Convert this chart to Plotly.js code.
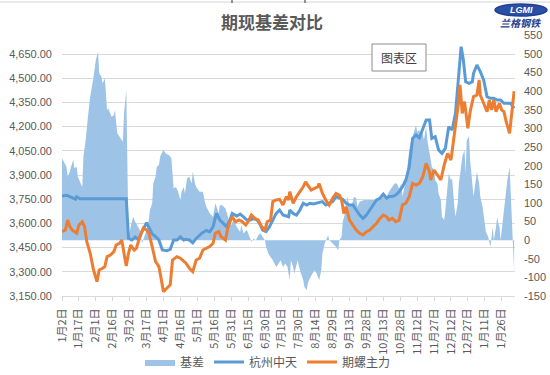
<!DOCTYPE html>
<html>
<head>
<meta charset="utf-8">
<script src="https://cdn.plot.ly/plotly-3.0.1.min.js"></script>
<style>html,body{margin:0;padding:0;background:#fff;}#chart{width:550px;height:375px;}</style>
</head>
<body>
<div id="chart"></div>
<script>
// ---- data ----
var tickDates = ['2020-01-02','2020-01-17','2020-02-01','2020-02-16','2020-03-02','2020-03-17','2020-04-01','2020-04-16','2020-05-01','2020-05-16','2020-05-31','2020-06-15','2020-06-30','2020-07-15','2020-07-30','2020-08-14','2020-08-29','2020-09-13','2020-09-28','2020-10-13','2020-10-28','2020-11-12','2020-11-27','2020-12-12','2020-12-27','2021-01-11','2021-01-26'];
var tickLabels = ['1月2日','1月17日','2月1日','2月16日','3月2日','3月17日','4月1日','4月16日','5月1日','5月16日','5月31日','6月15日','6月30日','7月15日','7月30日','8月14日','8月29日','9月13日','9月28日','10月13日','10月28日','11月12日','11月27日','12月12日','12月27日','1月11日','1月26日'];
var leftTicks = [3150,3300,3450,3600,3750,3900,4050,4200,4350,4500,4650];
var rightTicks = [-150,-100,-50,0,50,100,150,200,250,300,350,400,450,500,550];
var rightTickText = ['-150','-100','-50','0','50','100','150','200','250','300','350','400','450','500','550'];

var spotDates = ['2020-01-02','2020-01-06','2020-01-11','2020-01-14','2020-01-15','2020-01-18','2020-02-28',
'2020-03-01','2020-03-04','2020-03-07','2020-03-10','2020-03-13','2020-03-17','2020-03-19','2020-03-22','2020-03-25','2020-03-28','2020-03-31','2020-04-04','2020-04-07','2020-04-10',
'2020-04-13','2020-04-16','2020-04-19','2020-04-21','2020-04-24','2020-04-27','2020-04-30','2020-05-05','2020-05-09','2020-05-12','2020-05-15','2020-05-18','2020-05-21','2020-05-24','2020-05-27','2020-05-30','2020-06-01','2020-06-05','2020-06-08','2020-06-11','2020-06-14','2020-06-17','2020-06-20','2020-06-23','2020-06-26','2020-06-28','2020-07-01','2020-07-04','2020-07-07','2020-07-10','2020-07-13','2020-07-16','2020-07-21',
'2020-07-22','2020-07-25','2020-07-28','2020-07-31','2020-08-03','2020-08-06','2020-08-09','2020-08-12','2020-08-14','2020-08-17','2020-08-20','2020-08-23','2020-08-26','2020-08-29','2020-09-01','2020-09-04','2020-09-07','2020-09-10','2020-09-13','2020-09-16','2020-09-19','2020-09-22','2020-09-25','2020-09-28','2020-10-01','2020-10-04','2020-10-07','2020-10-10','2020-10-13','2020-10-16','2020-10-18','2020-10-21','2020-10-24','2020-10-27',
'2020-10-30','2020-11-02','2020-11-05','2020-11-08','2020-11-11','2020-11-14','2020-11-17','2020-11-20','2020-11-23','2020-11-25','2020-11-28','2020-12-01','2020-12-04','2020-12-07','2020-12-10','2020-12-13','2020-12-16','2020-12-19','2020-12-21','2020-12-23','2020-12-25','2020-12-28','2020-12-31','2021-01-01','2021-01-04','2021-01-07','2021-01-10','2021-01-13','2021-01-16','2021-01-19','2021-01-22','2021-01-25','2021-01-28','2021-01-31','2021-02-03','2021-02-06'];
var spotValues = [3770,3774,3760,3750,3765,3753,3753,
3507,3497,3516,3497,3549,3604,3580,3535,3518,3497,3435,3431,3439,3497,
3497,3517,3497,3501,3497,3480,3507,3539,3557,3547,3580,3662,3621,3600,3580,3621,3662,3646,3658,3641,3621,3621,3631,3621,3590,3559,3549,3580,3621,3662,3683,3652,3641,
3683,3662,3652,3683,3725,3714,3725,3721,3725,3730,3735,3714,3725,3735,3766,3756,3749,3725,3714,3714,3683,3652,3631,3652,3683,3714,3745,3756,3782,3756,3766,3766,3776,3796,
3827,3869,3951,4127,4148,4131,4189,4241,4241,4127,4138,4055,4034,4065,4199,4179,4282,4530,4695,4613,4478,4468,4478,4530,4582,4541,4489,4385,4375,4375,4365,4365,4344,4344,4344,4313];

var futDates = ['2020-01-02','2020-01-05','2020-01-07','2020-01-09','2020-01-11','2020-01-13','2020-01-15','2020-01-17','2020-01-20','2020-01-22','2020-01-24','2020-01-27','2020-01-30','2020-02-02','2020-02-04','2020-02-07','2020-02-09','2020-02-11','2020-02-14','2020-02-17','2020-02-19','2020-02-22','2020-02-24','2020-02-26','2020-02-28','2020-03-01','2020-03-03','2020-03-06','2020-03-08','2020-03-11','2020-03-14','2020-03-17','2020-03-19','2020-03-22','2020-03-25','2020-03-28','2020-03-30','2020-04-01','2020-04-04','2020-04-07','2020-04-09','2020-04-11',
'2020-04-13','2020-04-16','2020-04-19','2020-04-21','2020-04-24','2020-04-27','2020-04-30','2020-05-03','2020-05-06','2020-05-09','2020-05-12','2020-05-15','2020-05-17','2020-05-20','2020-05-22','2020-05-26','2020-05-28','2020-05-30','2020-06-01','2020-06-04','2020-06-07','2020-06-10','2020-06-13','2020-06-15','2020-06-18','2020-06-21','2020-06-24','2020-06-27','2020-06-30','2020-07-02','2020-07-05','2020-07-07','2020-07-10','2020-07-13','2020-07-16','2020-07-19','2020-07-21',
'2020-07-22','2020-07-25','2020-07-28','2020-07-31','2020-08-03','2020-08-05','2020-08-07','2020-08-10','2020-08-13','2020-08-16','2020-08-17','2020-08-20','2020-08-23','2020-08-26','2020-08-29','2020-09-01','2020-09-04','2020-09-06','2020-09-08','2020-09-10','2020-09-13','2020-09-16','2020-09-19','2020-09-22','2020-09-25','2020-09-28','2020-10-01','2020-10-04','2020-10-07','2020-10-10','2020-10-13','2020-10-16','2020-10-18','2020-10-21','2020-10-24','2020-10-27',
'2020-10-30','2020-11-02','2020-11-05','2020-11-08','2020-11-11','2020-11-14','2020-11-17','2020-11-20','2020-11-23','2020-11-24','2020-11-27','2020-11-30','2020-12-03','2020-12-06','2020-12-09','2020-12-12','2020-12-14','2020-12-16','2020-12-19','2020-12-20','2020-12-22','2020-12-24','2020-12-26','2020-12-27','2020-12-29','2021-01-01','2021-01-04','2021-01-06','2021-01-07','2021-01-10','2021-01-13','2021-01-15','2021-01-17','2021-01-19','2021-01-21','2021-01-24','2021-01-26','2021-01-28','2021-01-30','2021-02-02','2021-02-04','2021-02-06'];
var futValues = [3548,3559,3621,3580,3559,3548,3539,3590,3610,3580,3487,3415,3311,3239,3311,3322,3332,3394,3404,3425,3466,3477,3497,3415,3336,3415,3466,3435,3446,3518,3570,3559,3539,3456,3363,3332,3249,3177,3198,3219,3373,3384,
3394,3384,3363,3353,3322,3301,3373,3384,3435,3446,3456,3477,3539,3549,3518,3497,3570,3610,3641,3610,3621,3610,3590,3610,3652,3631,3621,3580,3559,3610,3621,3735,3745,3749,3714,3766,3745,
3796,3725,3766,3796,3827,3858,3838,3807,3817,3827,3848,3786,3745,3714,3756,3786,3776,3745,3662,3703,3621,3590,3559,3539,3528,3549,3559,3580,3600,3631,3652,3641,3621,3631,3610,3620,
3715,3725,3766,3848,3838,3848,3889,3972,3920,3869,3931,3900,3869,3962,4034,3993,4096,4179,4365,4458,4282,4355,4251,4189,4292,4386,4396,4489,4396,4344,4293,4365,4303,4365,4293,4344,4303,4293,4230,4158,4272,4420];

var basisDates = ['2020-01-02','2020-01-04','2020-01-06','2020-01-07','2020-01-09','2020-01-10','2020-01-12','2020-01-13','2020-01-15','2020-01-16','2020-01-18','2020-01-20','2020-01-21','2020-01-23','2020-01-25','2020-01-27','2020-01-30','2020-02-01','2020-02-03','2020-02-04','2020-02-06','2020-02-07','2020-02-09','2020-02-11','2020-02-12','2020-02-14','2020-02-15','2020-02-17','2020-02-18','2020-02-20','2020-02-21','2020-02-23','2020-02-25','2020-02-26','2020-02-28','2020-03-01','2020-03-03','2020-03-05','2020-03-07','2020-03-09','2020-03-11','2020-03-13','2020-03-15','2020-03-17','2020-03-19','2020-03-20','2020-03-22','2020-03-23','2020-03-25','2020-03-26','2020-03-28','2020-03-29','2020-03-31','2020-04-01','2020-04-03','2020-04-06','2020-04-08','2020-04-10',
'2020-04-12','2020-04-14','2020-04-16','2020-04-17','2020-04-19','2020-04-20','2020-04-22','2020-04-24','2020-04-26','2020-04-27','2020-04-29','2020-04-30','2020-05-03','2020-05-06','2020-05-08','2020-05-09','2020-05-12','2020-05-15','2020-05-17','2020-05-20','2020-05-21','2020-05-23','2020-05-26','2020-05-28','2020-05-30','2020-05-31','2020-06-02','2020-06-05','2020-06-08','2020-06-09','2020-06-11','2020-06-14','2020-06-17','2020-06-18','2020-06-20','2020-06-22','2020-06-24','2020-06-26','2020-06-28','2020-06-30','2020-07-01','2020-07-03','2020-07-05','2020-07-07','2020-07-10','2020-07-12','2020-07-14','2020-07-16','2020-07-18','2020-07-20','2020-07-22','2020-07-23','2020-07-25','2020-07-26','2020-07-28','2020-07-29','2020-07-31','2020-08-01','2020-08-03','2020-08-04','2020-08-06','2020-08-07','2020-08-08','2020-08-11','2020-08-13','2020-08-15','2020-08-17','2020-08-19','2020-08-20','2020-08-22','2020-08-23','2020-08-25','2020-08-26','2020-08-29','2020-09-01','2020-09-03','2020-09-04','2020-09-06','2020-09-07','2020-09-09','2020-09-10','2020-09-11','2020-09-13','2020-09-16','2020-09-17','2020-09-19','2020-09-20','2020-09-22','2020-09-26','2020-10-01','2020-10-05','2020-10-10','2020-10-13','2020-10-16','2020-10-18','2020-10-21','2020-10-23','2020-10-25','2020-10-27','2020-10-29',
'2020-10-30','2020-11-02','2020-11-05','2020-11-07','2020-11-09','2020-11-11','2020-11-12','2020-11-14','2020-11-15','2020-11-17','2020-11-18','2020-11-20','2020-11-21','2020-11-23','2020-11-24','2020-11-25','2020-11-27','2020-11-28','2020-11-30','2020-12-01','2020-12-03','2020-12-04','2020-12-06','2020-12-07','2020-12-09','2020-12-10','2020-12-12','2020-12-13','2020-12-15','2020-12-16','2020-12-18','2020-12-19','2020-12-21','2020-12-22','2020-12-24','2020-12-25','2020-12-26','2020-12-28','2020-12-29','2020-12-31','2021-01-01','2021-01-03','2021-01-04','2021-01-06','2021-01-07','2021-01-09','2021-01-10','2021-01-12','2021-01-14','2021-01-15','2021-01-16','2021-01-18','2021-01-19','2021-01-21','2021-01-22','2021-01-23','2021-01-24','2021-01-25','2021-01-27','2021-01-28','2021-01-29','2021-01-31','2021-02-02','2021-02-03','2021-02-04','2021-02-05','2021-02-06'];
var basisValues = [220,206,197,170,184,197,215,193,197,170,157,143,224,269,331,385,439,484,506,448,439,421,435,349,354,340,331,336,349,287,282,273,264,340,403,9,36,63,49,36,27,-8,9,27,54,81,99,152,170,197,202,224,237,242,233,228,220,139,
143,130,108,130,143,125,166,170,152,184,152,143,130,130,99,90,72,63,99,72,94,94,85,63,45,40,54,36,22,40,18,27,0,-4,4,0,13,18,9,0,-18,-36,-45,-54,-72,-63,-54,-72,-63,-72,-108,-54,-72,-90,-63,-54,-81,-90,-108,-126,-134,-117,-108,-90,-81,-90,-108,-81,-36,-9,0,13,0,-9,-18,-27,0,9,49,72,103,117,90,103,117,112,90,103,108,108,110,108,117,117,130,143,152,152,139,152,
117,161,242,269,287,309,291,296,278,287,269,305,269,224,215,197,188,161,152,125,108,63,54,81,143,179,161,166,90,63,99,152,197,224,242,179,269,278,215,161,117,161,184,152,117,90,63,22,9,-9,-18,36,0,36,63,45,36,0,54,90,125,161,197,108,18,-13,-85];

// ---- geometry helpers (plot area: x 62..515, y 35..296) ----
var PL = 62, PR = 515, PT = 35, PB = 296;
function px(X){ return (X - PL) / (PR - PL); }
function py(Y){ return (PB - Y) / (PB - PT); }

var FONT = '"Liberation Sans", Arial, "Noto Sans CJK SC", sans-serif';
var CJK = '"Noto Sans CJK SC", "Liberation Sans", sans-serif';
var TXT = '#595959';

var traces = [
  {x: basisDates, y: basisValues, name: '基差', type: 'scatter', mode: 'lines',
   fill: 'tozeroy', fillcolor: '#9DC3E6', line: {width: 0, color: '#9DC3E6'},
   yaxis: 'y', hoverinfo: 'skip'},
  {x: spotDates, y: spotValues, name: '杭州中天', type: 'scatter', mode: 'lines',
   line: {color: '#5B9BD5', width: 3}, yaxis: 'y2', hoverinfo: 'skip'},
  {x: futDates, y: futValues, name: '期螺主力', type: 'scatter', mode: 'lines',
   line: {color: '#ED7D31', width: 3}, yaxis: 'y2', hoverinfo: 'skip'}
];

var leftMax = 3150 + 1500 * (PB - PT) / 242;
var rightMax = -150 + 650 * (PB - PT) / 242;

var layout = {
  width: 550, height: 375,
  margin: {l: PL, r: 550 - PR, t: PT, b: 375 - PB, pad: 0, autoexpand: false},
  paper_bgcolor: '#ffffff', plot_bgcolor: '#ffffff',
  font: {family: FONT, color: TXT, size: 11},
  title: {text: '期现基差对比', x: 272/550, xref: 'container', xanchor: 'center',
          y: 1 - 23/375, yref: 'container', yanchor: 'middle',
          font: {family: CJK, size: 17, color: TXT, weight: 700}},
  xaxis: {type: 'date', range: ['2020-01-02', '2021-02-06 19:00'],
          tickmode: 'array', tickvals: tickDates, ticktext: tickLabels,
          tickangle: -90, ticks: 'outside', ticklen: 4, tickcolor: '#d9d9d9', tickwidth: 1,
          showline: true, linecolor: '#d9d9d9', linewidth: 1, showgrid: false, zeroline: false,
          automargin: false,
          tickfont: {family: CJK, size: 11, color: TXT}, ticklabelstandoff: 3},
  yaxis: {range: [-150, rightMax], side: 'right', tickmode: 'array',
          tickvals: rightTicks, ticktext: rightTickText, automargin: false,
          showgrid: false, zeroline: false, showline: false, ticks: '',
          tickfont: {family: FONT, size: 11, color: TXT}, ticklabelstandoff: 8},
  yaxis2: {range: [3150, leftMax], overlaying: 'y', side: 'left', tickmode: 'array',
           tickvals: leftTicks, tickformat: ',.2f', automargin: false,
           showgrid: true, gridcolor: '#d9d9d9', gridwidth: 1, zeroline: false, showline: false, ticks: '',
           tickfont: {family: FONT, size: 11, color: TXT}, ticklabelstandoff: 9},
  showlegend: true,
  legend: {orientation: 'h', x: px(268), xanchor: 'center', y: py(362), yanchor: 'middle',
           font: {family: CJK, size: 12, color: TXT}, itemwidth: 30, bgcolor: 'rgba(0,0,0,0)',
           traceorder: 'normal'},
  shapes: [
    {type: 'line', xref: 'paper', yref: 'paper', x0: px(0), x1: px(550), y0: py(2), y1: py(2),
     line: {color: '#d4d4d4', width: 1}},
    {type: 'line', xref: 'paper', yref: 'paper', x0: px(232), x1: px(232), y0: py(0), y1: py(3),
     line: {color: '#333333', width: 1}},
    {type: 'line', xref: 'paper', yref: 'paper', x0: px(305), x1: px(305), y0: py(0), y1: py(3),
     line: {color: '#333333', width: 1}},
    {type: 'rect', xref: 'paper', yref: 'paper', x0: px(372), x1: px(426), y0: py(71), y1: py(44),
     line: {color: '#8c8c8c', width: 1}, fillcolor: '#ffffff'},
    {type: 'circle', xref: 'paper', yref: 'paper', x0: px(495), x1: px(547), y0: py(16), y1: py(4),
     line: {color: '#1f3f8f', width: 1.5}, fillcolor: '#2b4fa6'}
  ],
  annotations: [
    {text: '图表区', xref: 'paper', yref: 'paper', x: px(399), y: py(57.5), showarrow: false,
     xanchor: 'center', yanchor: 'middle', font: {family: CJK, size: 12, color: '#404040'}},
    {text: '<b><i>LGMI</i></b>', xref: 'paper', yref: 'paper', x: px(521), y: py(10), showarrow: false,
     xanchor: 'center', yanchor: 'middle', font: {family: FONT, size: 9, color: '#ffffff'}},
    {text: '<i>兰格钢铁</i>', xref: 'paper', yref: 'paper', x: px(521), y: py(22.5), showarrow: false,
     xanchor: 'center', yanchor: 'middle', font: {family: CJK, size: 10, color: '#1f3f8f', weight: 700}}
  ]
};

Plotly.newPlot('chart', traces, layout, {staticPlot: true, displayModeBar: false});
</script>
</body>
</html>
